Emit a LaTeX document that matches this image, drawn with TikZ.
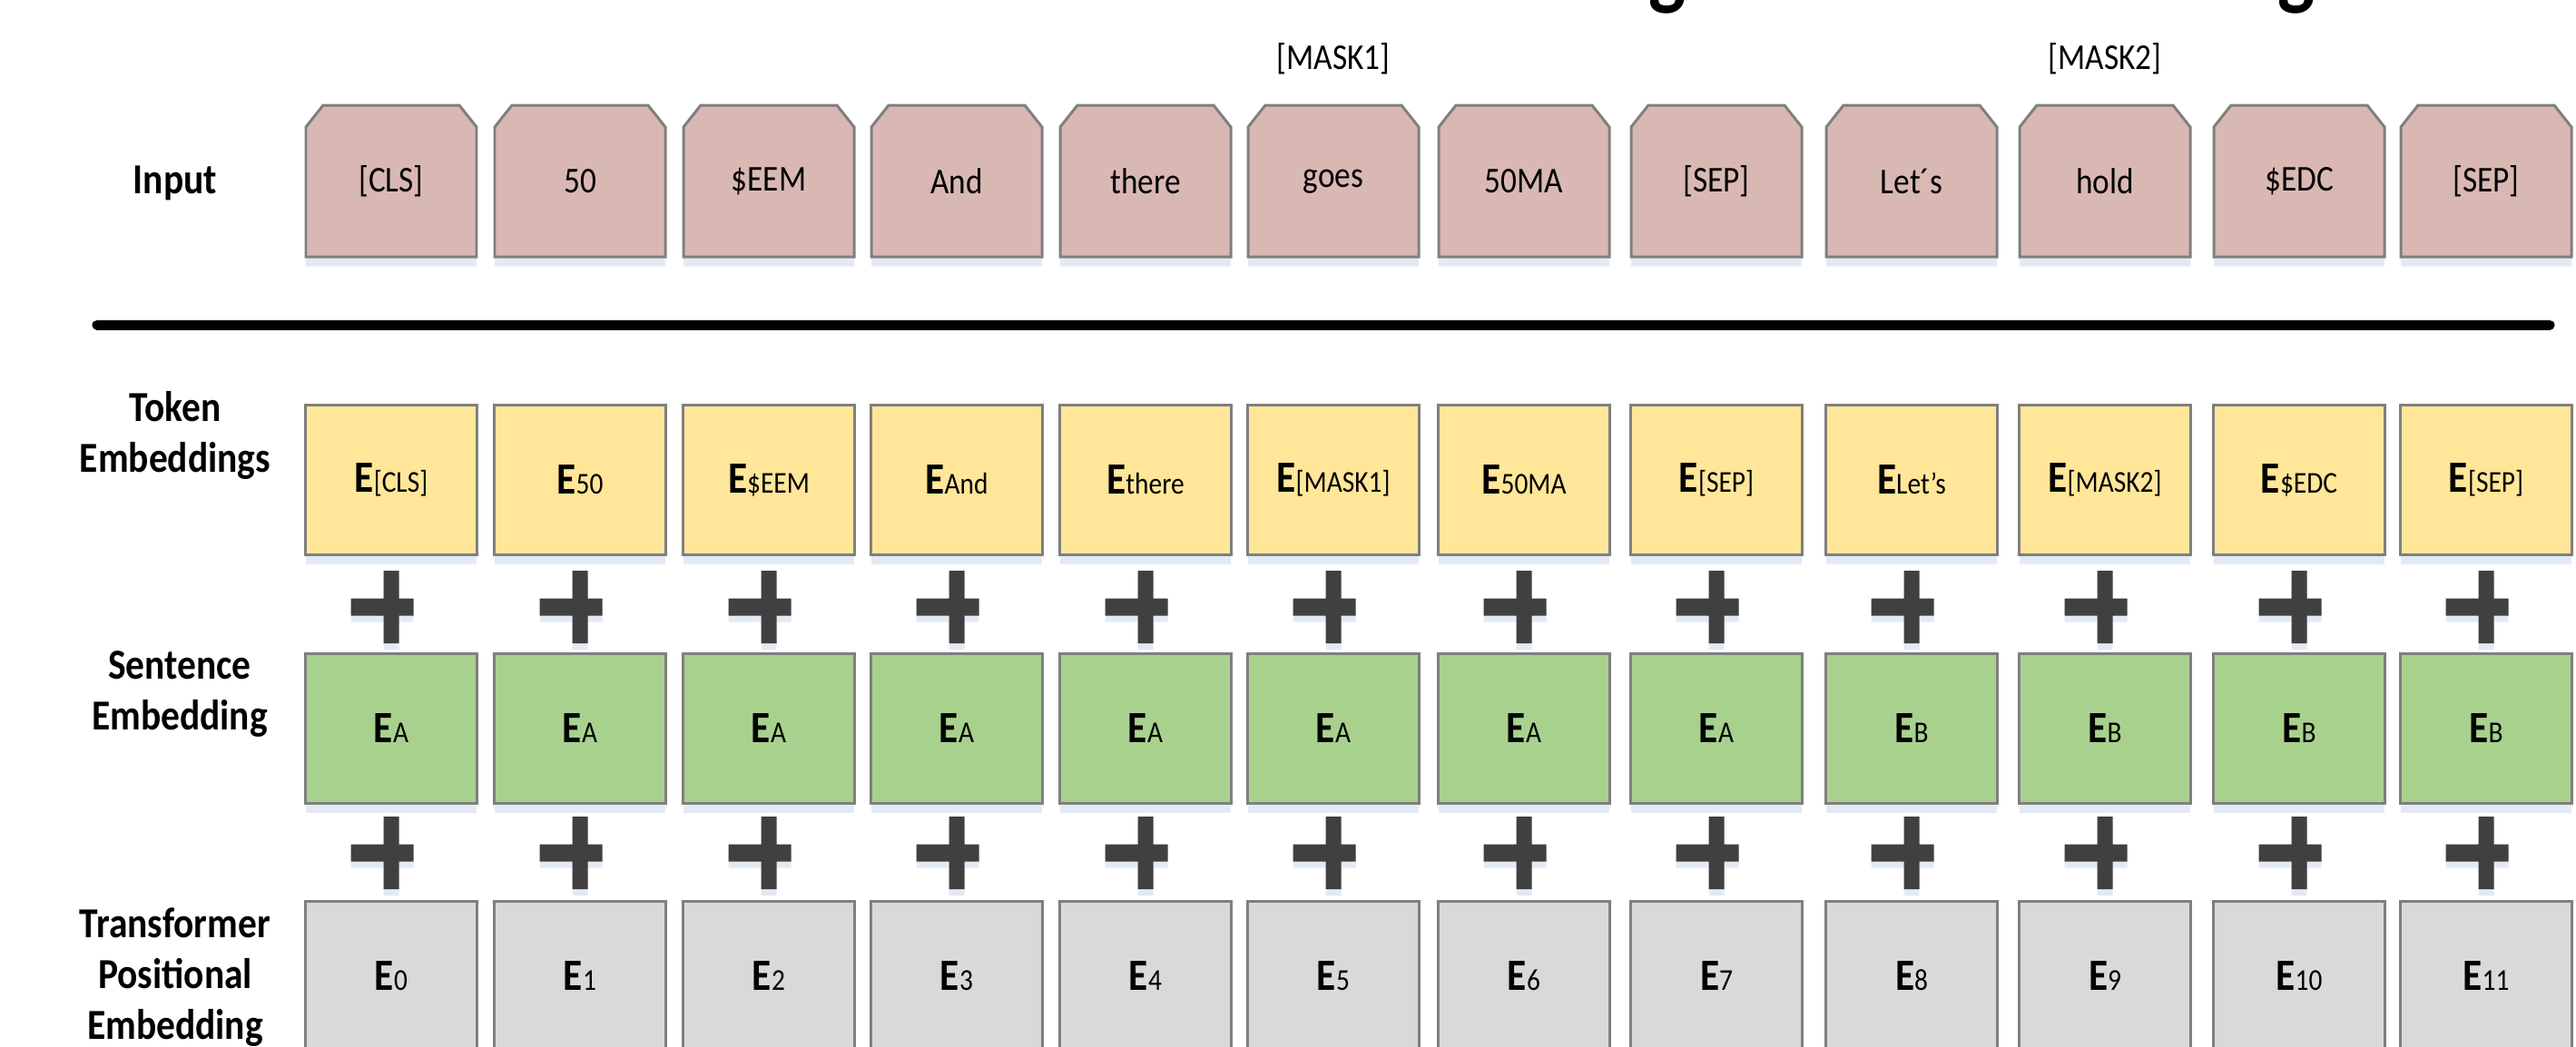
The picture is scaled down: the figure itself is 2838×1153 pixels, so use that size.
\documentclass[tikz,border=0pt]{standalone}
\usepackage{fontspec}
\setmainfont{Carlito}[FakeStretch=0.88]
\usetikzlibrary{shadows,calc}
\definecolor{inpink}{HTML}{D9B8B4}
\definecolor{tokyel}{HTML}{FFE699}
\definecolor{sengrn}{HTML}{A9D18E}
\definecolor{posgry}{HTML}{D9D9D9}
\definecolor{bordc}{HTML}{7F7F7F}
\definecolor{plusc}{HTML}{404040}
\definecolor{shadc}{HTML}{E3EAF4}
\newcommand{\embtxt}[1]{{\fontsize{14}{14}\selectfont\bfseries E}{\fontsize{9.5}{9.5}\selectfont #1}}
\begin{document}
\begin{tikzpicture}[x=0.01cm,y=-0.01cm,
  rowlab/.style={font=\fontsize{13.4}{16}\selectfont\bfseries, align=center},
  boxtxt/.style={font=\fontsize{11.4}{12}\selectfont, inner sep=0pt},
  masklab/.style={font=\fontsize{11.4}{12}\selectfont, inner sep=0pt},
  soft/.style={drop shadow={shadow xshift=0pt, shadow yshift=-3pt, fill=shadc, opacity=1, draw=none}},
  inshape/.style={fill=inpink, draw=bordc, line width=0.85pt, soft},
  embbox/.style={draw=bordc, line width=0.85pt, minimum width=1.88cm, minimum height=1.64cm, inner sep=0pt, soft},
  tokbox/.style={embbox, fill=tokyel},
  senbox/.style={embbox, fill=sengrn},
  posbox/.style={embbox, fill=posgry},
  plussign/.style={fill=plusc, drop shadow={shadow xshift=0pt, shadow yshift=-2pt, fill=shadc, opacity=1}}
]
\useasboundingbox (0,0) rectangle (2838,1153);
\begin{scope}
\clip (0,0) rectangle (2838,1153);
% title remnants
\node[anchor=base, inner sep=0pt, font=\fontsize{28}{28}\selectfont\bfseries] (tg1) at (1837,-2) {g};
\node[anchor=base, inner sep=0pt, font=\fontsize{28}{28}\selectfont\bfseries] (tg2) at (2530,-2) {g};
% mask labels
\node[masklab] (m1) at (1469,65) {[MASK1]};
\node[masklab] (m2) at (2319,65) {[MASK2]};
% row labels
\node[rowlab] (lin) at (193,202) {Input};
\node[rowlab] (ltok) at (193,480) {Token\\Embeddings};
\node[rowlab] (lsen) at (198,765) {Sentence\\Embedding};
\node[rowlab] (lpos) at (193,1077) {Transformer\\Positional\\Embedding};
% separator
\draw[line width=0.11cm, line cap=round] (107,358) -- (2809,358);
% input row
\foreach \i/\l/\txt in {0/337/{[CLS]},1/545/50,2/753/\$EEM,3/960/And,4/1168/there,5/1375/goes,6/1585/50MA,7/1797/{[SEP]},8/2012/Let´s,9/2225/hold,10/2439/\$EDC,11/2645/{[SEP]}}{
  \filldraw[inshape] (\l,283) -- (\l,140) -- (\l+19,116) -- (\l+169,116) -- (\l+188,140) -- (\l+188,283) -- cycle;
  \node[boxtxt] (in\i) at (\l+94,200) {\txt};
}
% token row
\foreach \i/\l/\txt in {0/337/{[CLS]},1/545/50,2/753/\$EEM,3/960/And,4/1168/there,5/1375/{[MASK1]},6/1585/50MA,7/1797/{[SEP]},8/2012/Let's,9/2225/{[MASK2]},10/2439/\$EDC,11/2645/{[SEP]}}{
  \node[tokbox] (tok\i) at (\l+94,529) {\embtxt{\txt}};
  \fill[plussign] (\l+85.5,629) rectangle (\l+102.5,709) (\l+49.5,659.5) rectangle (\l+118.5,678.5);
}
% sentence row
\foreach \i/\l/\txt in {0/337/A,1/545/A,2/753/A,3/960/A,4/1168/A,5/1375/A,6/1585/A,7/1797/A,8/2012/B,9/2225/B,10/2439/B,11/2645/B}{
  \node[senbox] (sen\i) at (\l+94,803) {\embtxt{\txt}};
  \fill[plussign] (\l+85.5,900) rectangle (\l+102.5,980) (\l+49.5,930.5) rectangle (\l+118.5,949.5);
}
% positional row
\foreach \i/\l in {0/337,1/545,2/753,3/960,4/1168,5/1375,6/1585,7/1797,8/2012,9/2225,10/2439,11/2645}{
  \node[posbox] (pos\i) at (\l+94,1076) {\embtxt{\i}};
}
\end{scope}
\end{tikzpicture}
\end{document}
